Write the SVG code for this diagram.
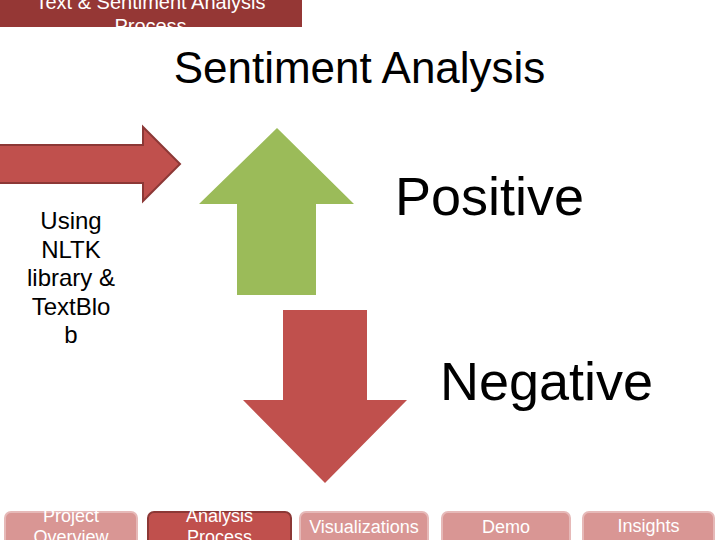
<svg xmlns="http://www.w3.org/2000/svg" width="720" height="540" viewBox="0 0 720 540">
<style>
text{font-family:"Liberation Sans",Arial,sans-serif;}
.big{font-size:54px;fill:#000;text-anchor:middle;}
.side{font-size:24px;fill:#000;text-anchor:middle;}
.tab{fill:#D99694;stroke:#E6B9B8;stroke-width:2;}
.tabon{fill:#C0504D;stroke:#8C3836;stroke-width:2;}
.tt{font-size:18px;fill:#fff;text-anchor:middle;}
</style>
<defs>
<clipPath id="topclip"><rect x="0" y="0" width="305" height="27"/></clipPath>
</defs>
<rect width="720" height="540" fill="#fff"/>
<g id="top-tab" clip-path="url(#topclip)">
<path d="M0,-5 H296 Q302,-5 302,1 V27 H0 Z" fill="#953735"/>
<text x="150.5" y="9" font-size="20" fill="#fff" text-anchor="middle">Text &amp; Sentiment Analysis</text>
<text x="150.5" y="33" font-size="20" fill="#fff" text-anchor="middle">Process</text>
</g>
<g id="title"><text x="359.5" y="83" font-size="44" text-anchor="middle" fill="#000">Sentiment Analysis</text></g>
<g id="right-arrow">
<path d="M-2,145 H143 V127 L180,164 L143,201 V183 H-2 Z" fill="#C0504D" stroke="#8C3836" stroke-width="2"/>
</g>
<g id="left-text">
<text class="side" x="71" y="229">Using</text>
<text class="side" x="71" y="258">NLTK</text>
<text class="side" x="71" y="286">library &amp;</text>
<text class="side" x="71" y="315">TextBlo</text>
<text class="side" x="71" y="343">b</text>
</g>
<g id="positive">
<path d="M277,128 L354,204 H316 V295 H237 V204 H199 Z" fill="#9BBB59"/>
<text class="big" x="489.5" y="215">Positive</text>
</g>
<g id="negative">
<path d="M283,310 H367 V400 H407 L325,483 L243,400 H283 Z" fill="#C0504D"/>
<text class="big" x="546.5" y="400">Negative</text>
</g>
<g id="nav">
<g id="tab-overview"><rect class="tab" x="5" y="512" width="132" height="40" rx="6"/>
<text class="tt" x="71" y="522">Project</text><text class="tt" x="71" y="543">Overview</text></g>
<g id="tab-analysis"><rect class="tabon" x="148" y="512" width="143" height="40" rx="6"/>
<text class="tt" x="219.5" y="522">Analysis</text><text class="tt" x="219.5" y="543">Process</text></g>
<g id="tab-vis"><rect class="tab" x="300" y="512" width="128" height="40" rx="6"/>
<text class="tt" x="364" y="533">Visualizations</text></g>
<g id="tab-demo"><rect class="tab" x="442" y="512" width="128" height="40" rx="6"/>
<text class="tt" x="506" y="533">Demo</text></g>
<g id="tab-insights"><rect class="tab" x="583" y="512" width="131" height="40" rx="6"/>
<text class="tt" x="648.5" y="532">Insights</text></g>
</g>
</svg>
